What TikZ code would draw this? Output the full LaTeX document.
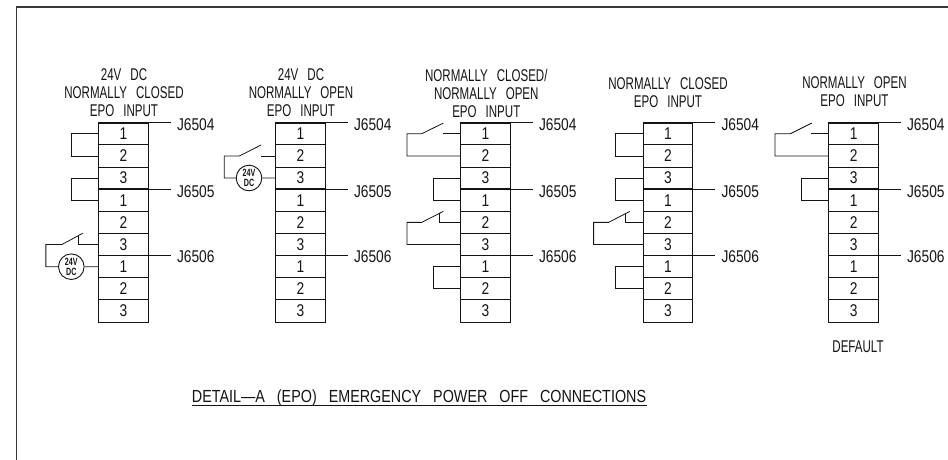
\documentclass[tikz,border=0pt]{standalone}
\usepackage{fontspec}
\newfontfamily\cad[FakeStretch=0.68,WordSpace=2.8]{Liberation Sans}
\newfontfamily\caddig[FakeStretch=0.81]{Liberation Sans}
\newfontfamily\cadcap[FakeStretch=0.82,WordSpace=3.0]{Liberation Sans}
\definecolor{ink}{gray}{0.08}
\tikzset{
  frameline/.style={line width=1.4pt,draw=ink!85},
  cell/.style={draw=ink,line width=0.9pt,minimum width=49.6pt,minimum height=22.15pt,inner sep=0pt,outer sep=0pt,font=\caddig\fontsize{17}{18}\selectfont,text=ink},
  heavy/.style={line width=1.7pt,draw=ink},
  wire/.style={line width=0.8pt,draw=ink},
  jlabel/.style={anchor=west,inner sep=0pt,font=\caddig\fontsize{17}{18}\selectfont,text=ink},
  plainlabel/.style={inner sep=0pt,font=\cad\fontsize{17}{18}\selectfont,text=ink},
  caplabel/.style={inner sep=0pt,font=\cadcap\fontsize{17.5}{18}\selectfont,text=ink},
  title/.style={align=center,inner sep=0pt,font=\cad\fontsize{17}{17.7}\selectfont,text=ink},
  vsrc/.style={circle,draw=ink,line width=0.9pt,minimum size=25.6pt,inner sep=0pt,align=center,font=\cad\bfseries\fontsize{10.5}{10}\selectfont,text=ink},
}
\newcommand{\LoopW}[3]{\draw[wire] (#1.west) -- ++(-#3,0) |- (#2.west);}
\begin{document}
\begin{tikzpicture}[x=1pt,y=-1pt]
\useasboundingbox (0,0) rectangle (948,460);
\draw[frameline] (16.5,460) -- (16.5,7) -- (948,7);

% terminal blocks
\foreach \b/\x in {a/123.5,b/300.5,c/485.5,d/668,e/853.6}{
  \foreach \i/\t in {1/1,2/2,3/3,4/1,5/2,6/3,7/1,8/2,9/3}{
    \node[cell] (\b\i) at (\x,{122.7+22.15*(\i-0.5)}) {\t};
  }
  \draw[heavy] (\b1.north west) -- (\b1.north east);
  \draw[heavy] (\b3.south west) -- (\b3.south east);
  \draw[heavy] (\b6.south west) -- (\b6.south east);
  \node[jlabel] (\b J1) at ([xshift=28.5pt,yshift=-2pt]\b1.north east) {J6504};
  \node[jlabel] (\b J2) at ([xshift=28.5pt,yshift=-2pt]\b3.south east) {J6505};
  \node[jlabel] (\b J3) at ([xshift=28.5pt,yshift=-1.5pt]\b6.south east) {J6506};
  \draw[wire] (\b1.north east) -- ++(22.5,0);
  \draw[wire] (\b3.south east) -- ++(22.5,0);
  \draw[wire] (\b6.south east) -- ++(22.5,0);
}

% titles
\node[title] (ta) at (124,92.8) {24V DC\\NORMALLY CLOSED\\EPO INPUT};
\node[title] (tb) at (301,92.8) {24V DC\\NORMALLY OPEN\\EPO INPUT};
\node[title] (tc) at (486.3,93.5) {NORMALLY CLOSED/\\NORMALLY OPEN\\EPO INPUT};
\node[title] (td) at (668,92.8) {NORMALLY CLOSED\\EPO INPUT};
\node[title] (te) at (854.5,91.5) {NORMALLY OPEN\\EPO INPUT};

% block a
\LoopW{a1}{a2}{27}
\LoopW{a3}{a4}{27}
\node[vsrc] (va) at (71.3,266.7) {24V\\DC};
\draw[wire] (a7.west) -- (va.east);
\draw[wire] (va.west) -- ++(-12.2,0) |- ([xshift=-36.8pt]a6.west) -- ++(20.9,-11.3);
\draw[wire] (a6.west) -- ++(-20.2,0) -- ++(0,-9.5);

% block b
\node[vsrc] (vb) at (249,178) {24V\\DC};
\draw[wire] (b3.west) -- (vb.east);
\draw[wire] (vb.west) -- ++(-11.5,0) |- ([xshift=-36.2pt]b2.west) -- ++(21.7,-11);
\draw[wire] (b2.west) -- ++(-15.2,0);

% block c
\draw[wire] (c1.west) -- ++(-18,0);
\draw[wire] (c2.west) -- ++(-53.7,0) |- ([xshift=-39pt]c1.west) -- ++(21.6,-10.7);
\LoopW{c3}{c4}{27.4}
\draw[wire] (c5.west) -- ++(-21.7,0) -- ++(0,-9);
\draw[wire] (c6.west) -- ++(-53.7,0) |- ([xshift=-39pt]c5.west) -- ++(21.6,-11);
\LoopW{c7}{c8}{27.4}

% block d
\LoopW{d1}{d2}{27.6}
\LoopW{d3}{d4}{27.6}
\draw[wire] (d5.west) -- ++(-17.6,0) -- ++(0,-9);
\draw[wire] (d6.west) -- ++(-49.6,0) |- ([xshift=-34.6pt]d5.west) -- ++(21.3,-11);
\LoopW{d7}{d8}{27.6}

% block e
\draw[wire] (e1.west) -- ++(-17.7,0);
\draw[wire] (e2.west) -- ++(-53.8,0) |- ([xshift=-38.5pt]e1.west) -- ++(21.4,-10.7);
\LoopW{e3}{e4}{27.1}

% captions
\node[plainlabel] (def) at (858,347) {DEFAULT};
\node[caplabel] (cap) at (419,398) {DETAIL—A (EPO) EMERGENCY POWER OFF CONNECTIONS};
\draw[wire] (191.5,405.5) -- (646.5,405.5);
\end{tikzpicture}
\end{document}
